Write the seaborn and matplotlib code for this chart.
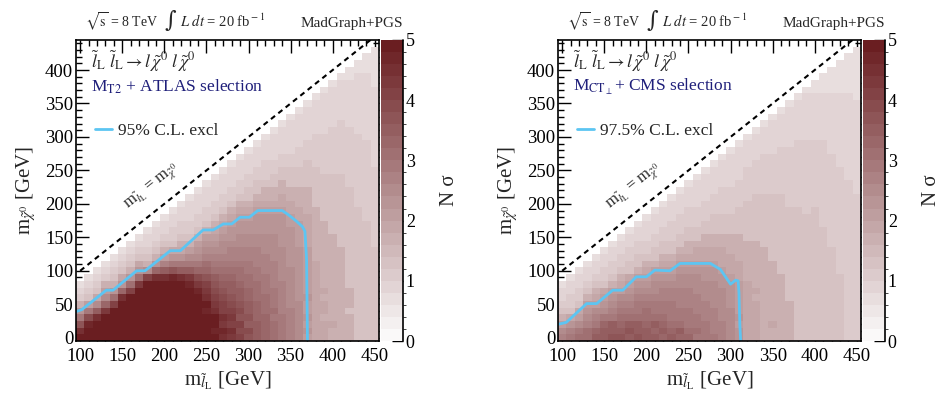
import numpy as np
import pandas as pd
import matplotlib
matplotlib.use("Agg")
import matplotlib.pyplot as plt
import matplotlib.transforms as mtransforms
from matplotlib.colors import ListedColormap, BoundaryNorm
import seaborn as sns

# grid of mass points (bin centres, GeV)
slepton_mass = [100, 110, 120, 130, 140, 150, 160, 170, 180, 190, 200, 210,
                220, 230, 240, 250, 260, 270, 280, 290, 300, 310, 320, 330,
                340, 350, 360, 370, 380, 390, 400, 410, 420, 430, 440, 450]
neutralino_mass = [0, 10, 20, 30, 40, 50, 60, 70, 80, 90, 100, 110, 120, 130,
                   140, 150, 160, 170, 180, 190, 200, 210, 220, 230, 240, 250,
                   260, 270, 280, 290, 300, 310, 320, 330, 340, 350, 360, 370,
                   380, 390, 400, 410, 420, 430, 440]

# N sigma per cell, one string per slepton mass, read from bottom (m_chi = 0) upwards.
# each character is a 0.2-wide colour band: "0" = 0-0.2 ... "o" = 4.8-5.0, "p" = >5
LEVEL_CODES = "0123456789abcdefghijklmnop"

atlas_sigma = [
    "omieb8543",
    "ppnjea6543",
    "pppmhc96543",
    "pppplgca8543",
    "pppppkfb86543",
    "ppppppmgb96543",
    "pppppppkfb86543",
    "pppppppplfb96543",
    "pppppppppkc865443",
    "pppppppppmgb865443",
    "pppppppppmhda865443",
    "pppppppppnieb9655443",
    "pppppppppmheb98655443",
    "ppppppppnlheca86554443",
    "pppppppnljgecba86554443",
    "opopnomlkigfdcba86554443",
    "pnpomlkjihfedcba986554443",
    "mnlmkkjihgfedccba986554443",
    "lmklkjihhgfeddcbba986554443",
    "kjkijihhgffeddccbba986554443",
    "ijhihhggffeeddccbba9866554443",
    "hhhgggfffeedddccbbba9866554443",
    "ggggfffeeedddcccbbba98865554443",
    "fffefeeeddddccccbbba988665544443",
    "eeeedddddcccccbbbbba9988665544443",
    "dddddccccccbbbbbbaa998866655444443",
    "ccccccbbbbbbbbaaaa99888666555444443",
    "ababaabaaaaaaa9999988886666555444443",
    "999999999999" "88888888" "666666" "55555" "44444" "3",
    "9998998988" "88888888" "6666666" "555555" "444444" "3",
    "8898888888888888" "666666666" "5555555" "444444" "3",
    "88888888888888" "66666666666" "55555555" "444444" "3",
    "88886888" "666666666666666" "555555555" "4444444" "33",
    "66666666666666666666" "55555555555" "444444444" "33",
    "666666666666666666" "555555555555" "4444444444" "333",
    "66666666666666" "555555555555" "444444444444" "333333",
]

cms_sigma = [
    "dca865443",
    "edb9655443",
    "feca9655443",
    "ffdcba865443",
    "hgedca9865443",
    "hhgecba9655443",
    "ihhedcba8655443",
    "ihgfedca98655443",
    "hihfedcba96655443",
    "ihhfeedcba86655443",
    "hhgffedcba986554443",
    "hghfeedccba866554443",
    "ghgfeeddcba9866554443",
    "hgfeeeddcba98665554443",
    "ghfeedddccba98665554443",
    "gfeeedddccba988665554443",
    "efeedddcccba9986655544443",
    "eeedddcccbba99886655544443",
    "eddddccccbba998866655544443",
    "dddcccccbba99988666555544443",
    "cccccbbbba9998886665555444443",
    "bbabaaaaa999888866665555444443",
    "999999999" "888888" "666666" "55555" "4444" "3",
    "999999" "89" "8888888" "6666666" "55555" "4444" "3",
    "88888888888888" "66666666" "555555" "4444" "3",
    "889888888888" "6666666666" "555555" "44444" "3",
    "8888888888" "666666666666" "5555555" "44444" "3",
    "888888" "66666666666666" "555555555" "444444" "3",
    "66666666666666666666" "5555555555" "444444" "3",
    "6666666666666666666" "55555555555" "4444444" "3",
    "66666666666666666666" "5555555555" "4444444" "33",
    "66666666666666666" "5555555555555" "4444444" "333",
    "66666666666666" "55555555555555" "444444444" "3333",
    "6666666666" "5555555555555555" "44444444444" "33333",
    "555555555555555555555555" "4444444444444" "333333",
    "5555555555555555555555" "44444444444444" "33333333",
]

# exclusion contours (GeV)
atlas_excl_x = [95, 102, 131, 139, 167, 177, 207, 219, 246, 258, 270, 280, 290,
                301, 311, 340, 347, 357, 364, 367, 369, 370]
atlas_excl_y = [39, 42, 71, 71, 100, 100, 130, 130, 161, 161, 170, 170, 180,
                180, 190, 190, 184, 174, 166, 159, 116, -5]
cms_excl_x = [95, 105, 129, 141, 160, 172, 188, 200, 210, 228, 240, 276, 288,
              300, 306, 309, 310, 311, 312]
cms_excl_y = [20, 23, 51, 51, 71, 71, 91, 91, 101, 100, 111, 111, 102,
              80, 86, 85, 67, 20, -5]

panels = [
    (atlas_sigma, atlas_excl_x, atlas_excl_y,
     r"M$_{\rm T2}$ + ATLAS selection", "95% C.L. excl"),
    (cms_sigma, cms_excl_x, cms_excl_y,
     r"M$_{\rm CT_{\perp}}$+ CMS selection", "97.5% C.L. excl"),
]

sns.set_style("ticks")
plt.rcParams["font.family"] = ["Liberation Serif", "DejaVu Serif"]
plt.rcParams["mathtext.fontset"] = "stix"

# white -> dark red palette in 25 bands
lo = np.array([250, 249, 249]) / 255
hi = np.array([106, 30, 33]) / 255
band_colors = [lo + (hi - lo) * k / 24 for k in range(25)]
cmap = ListedColormap(band_colors)
norm = BoundaryNorm(np.linspace(0, 5, 26), cmap.N)


def sigma_table(columns):
    table = pd.DataFrame(np.nan, index=neutralino_mass, columns=slepton_mass)
    for j, code in enumerate(columns):
        for k, ch in enumerate(code[:len(neutralino_mass)]):
            table.iloc[k, j] = LEVEL_CODES.index(ch) * 0.2 + 0.1
    return table


def cell_x(m):
    return (m - 95) / 10


def cell_y(m):
    return (m + 5) / 10


fig = plt.figure(figsize=(9.53, 4.07), dpi=100)
axes_boxes = [(0.0797, 0.3998), (0.5855, 0.9056)]

for (sigma, ex, ey, selection, cl_label), (left, cbar_left) in zip(panels, axes_boxes):
    ax = fig.add_axes([left, 0.162, 0.318, 0.740])
    cax = fig.add_axes([cbar_left, 0.162, 0.0231, 0.740])

    sns.heatmap(sigma_table(sigma), ax=ax, cbar_ax=cax, cmap=cmap, norm=norm,
                xticklabels=False, yticklabels=False, linewidths=0,
                cbar_kws={"ticks": [0, 1, 2, 3, 4, 5]})
    ax.invert_yaxis()

    # GeV coordinates on top of the heatmap cell grid
    gev = mtransforms.Affine2D().translate(-95, 5).scale(0.1) + ax.transData

    ax.plot([100, 450], [100, 450], transform=gev, color="black", lw=1.5,
            ls=(0, (2.5, 2)))
    ax.plot(ex, ey, transform=gev, color="#5cc5f2", lw=2.0, label=cl_label)

    ax.text(185, 226, r"m$_{\tilde{l}_{\rm L}}$ = m$_{\tilde{\chi}^{0}}$",
            transform=gev, rotation=38.5, ha="center", va="center", fontsize=12)

    ax.text(0.05, 0.93,
            r"$\tilde{l}_{\rm L}\ \tilde{l}_{\rm L} \rightarrow l\,\tilde{\chi}^{0}\ l\,\tilde{\chi}^{0}$",
            transform=ax.transAxes, ha="left", va="center", fontsize=13)
    ax.text(0.05, 0.845, selection, transform=ax.transAxes, ha="left",
            va="center", fontsize=12.5, color="#1f1f7a")
    ax.legend(loc="center left", bbox_to_anchor=(0.063, 0.698), frameon=False,
              borderpad=0, borderaxespad=0, handlelength=1.0,
              handletextpad=0.3, fontsize=12.5)

    # header: sqrt(s), luminosity and generator
    ax.text(0.03, 1.043, r"$\sqrt{\rm s}$ = 8 TeV", transform=ax.transAxes,
            ha="left", va="baseline", fontsize=10)
    ax.text(0.31, 1.064, "∫", transform=ax.transAxes, ha="center",
            va="center", fontsize=16, family="DejaVu Serif")
    ax.text(0.343, 1.043, r"$L\ dt$ = 20 fb$^{\rm -1}$", transform=ax.transAxes,
            ha="left", va="baseline", fontsize=10.5)
    ax.text(1.079, 1.043, "MadGraph+PGS", transform=ax.transAxes, ha="right",
            va="baseline", fontsize=11)

    # ticks in GeV
    ax.set_xticks([cell_x(m) for m in [100, 150, 200, 250, 300, 350, 400, 450]])
    ax.set_xticklabels(["100", "150", "200", "250", "300", "350", "400", "450"])
    ax.set_xticks([cell_x(m) for m in slepton_mass], minor=True)
    ax.set_yticks([cell_y(m) for m in [0, 50, 100, 150, 200, 250, 300, 350, 400]])
    ax.set_yticklabels(["0", "50", "100", "150", "200", "250", "300", "350", "400"])
    ax.set_yticks([cell_y(m) for m in neutralino_mass], minor=True)
    ax.tick_params(which="both", direction="in", top=True, right=True,
                   labelsize=13.5, width=1, colors="black")
    ax.tick_params(which="major", length=9)
    ax.tick_params(which="minor", length=4.5)
    ax.tick_params(axis="x", pad=5)
    ax.tick_params(axis="y", pad=2)
    for spine in ax.spines.values():
        spine.set_visible(True)
        spine.set_color("black")
        spine.set_linewidth(1.2)

    ax.set_xlabel(r"m$_{\tilde{l}_{\rm L}}$ [GeV]", fontsize=15)
    ax.set_ylabel(r"m$_{\tilde{\chi}^{0}}$ [GeV]", fontsize=15)
    ax.xaxis.set_label_coords(0.5, -0.095)
    ax.yaxis.set_label_coords(-0.125, 0.5)

    cax.tick_params(direction="in", length=8, width=1, labelsize=13, pad=2,
                    colors="black")
    cax.plot([1, 1], [0, 1], transform=cax.transAxes, color="black", lw=1.2,
             clip_on=False)
    cax.set_ylabel("N σ", fontsize=15, labelpad=18)

fig.savefig("out.png", dpi=100)
